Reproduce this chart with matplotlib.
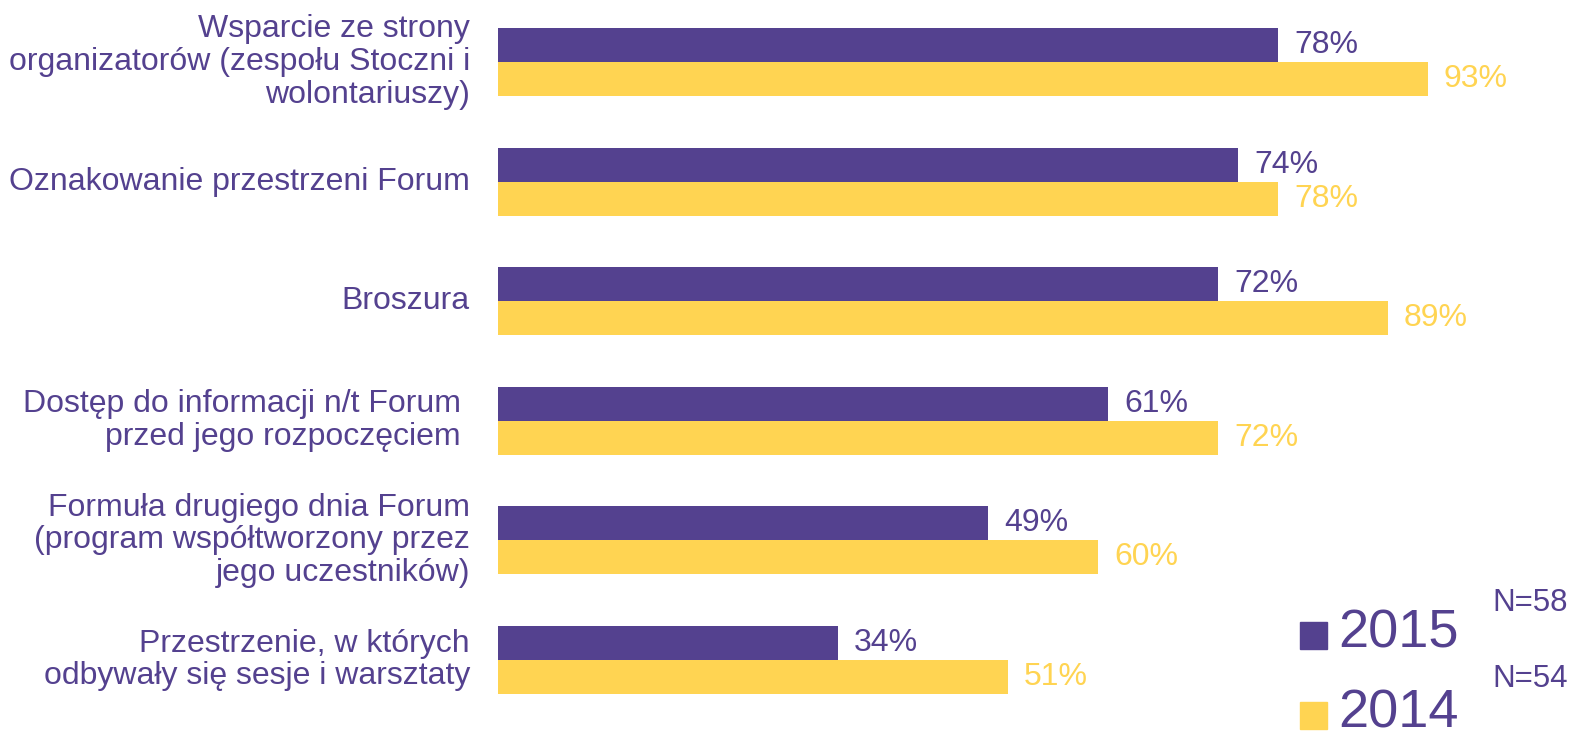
import matplotlib.pyplot as plt
from matplotlib.patches import Rectangle

plt.rcParams['font.family'] = ['Liberation Sans', 'DejaVu Sans']

categories = [
    'Wsparcie ze strony\norganizatorów (zespołu Stoczni i\nwolontariuszy)',
    'Oznakowanie przestrzeni Forum',
    'Broszura',
    'Dostęp do informacji n/t Forum \nprzed jego rozpoczęciem ',
    'Formuła drugiego dnia Forum\n(program współtworzony przez\njego uczestników)',
    'Przestrzenie, w których\nodbywały się sesje i warsztaty',
]
values_2015 = [78, 74, 72, 61, 49, 34]
values_2014 = [93, 78, 89, 72, 60, 51]
years = ['2015', '2014']
sample_sizes = ['N=58', 'N=54']

purple = '#54418F'
yellow = '#FFD452'

fig = plt.figure(figsize=(15.72, 7.32), dpi=100)
# axes: left edge at 498 px, 10 px per percent
ax = fig.add_axes([498 / 1572, 0, 1 - 498 / 1572, 1])

h = 0.284
pos = list(range(len(categories)))
ax.barh([p - h / 2 for p in pos], values_2015, height=h, color=purple)
ax.barh([p + h / 2 for p in pos], values_2014, height=h, color=yellow)

for p, v in zip(pos, values_2015):
    ax.text(v + 1.6, p - h / 2, f'{v}%', color=purple, fontsize=23,
            va='center', ha='left')
for p, v in zip(pos, values_2014):
    ax.text(v + 1.6, p + h / 2, f'{v}%', color=yellow, fontsize=23,
            va='center', ha='left')

for p, lab in zip(pos, categories):
    ax.text(-2.8, p, lab, color=purple, fontsize=23, ha='right',
            va='center', multialignment='right', linespacing=1.12,
            clip_on=False)

ax.set_xlim(0, 107.4)
ax.set_ylim(5 + 0.602, -0.518)
ax.axis('off')

# legend (2014 entry runs off the bottom edge, as in the original)
W, H = 1572, 732
for (yr, col, sq_top, txt_y) in [(years[0], purple, 622, 634),
                                 (years[1], yellow, 702, 714)]:
    fig.add_artist(Rectangle((1300 / W, 1 - (sq_top + 27) / H), 27 / W, 27 / H,
                             transform=fig.transFigure, color=col))
    fig.text(1338 / W, 1 - txt_y / H, yr, color=purple, fontsize=39,
             va='center', ha='left')
fig.text(1492 / W, 1 - 603 / H, sample_sizes[0], color=purple, fontsize=22.5,
         va='center', ha='left')
fig.text(1492 / W, 1 - 679 / H, sample_sizes[1], color=purple, fontsize=22.5,
         va='center', ha='left')

fig.savefig('out.png', dpi=100)
